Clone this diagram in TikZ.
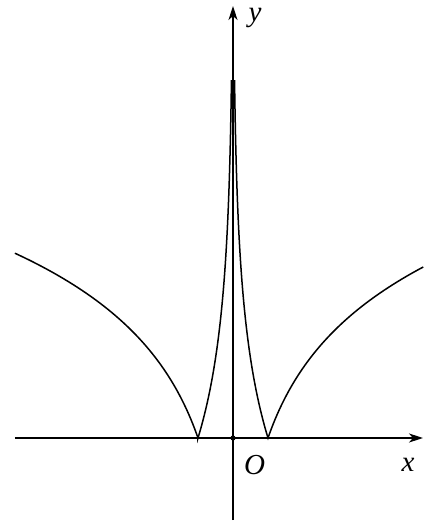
\documentclass[tikz,border=0pt]{standalone}
\usepackage{fontspec}
\setmainfont{Liberation Serif}
\usetikzlibrary{arrows.meta}
\begin{document}
\begin{tikzpicture}[x=1pt,y=1pt,
  axis/.style={line width=1.4pt,-{Stealth[length=14pt,width=9pt,inset=4pt]}},
  curve/.style={line width=1.5pt},
  lab/.style={font=\fontsize{29}{30}\selectfont\itshape,inner sep=0pt}]
\useasboundingbox (-233,-84) rectangle (190,438);
\coordinate (xs) at (-218,0);
\coordinate (xe) at (190,0);
\coordinate (ys) at (0,-82);
\coordinate (ye) at (0,432);
\draw[axis] (xs) -- (xe);
\draw[axis] (ys) -- (ye);
\fill (0,0) circle (2.6);
\node[lab] (ylab) at (22,420) {y};
\node[lab] (olab) at (21.5,-27.5) {O};
\node[lab] (xlab) at (175,-27) {x};
\draw[curve]
  plot[variable=\t,domain=184.8:0,samples=60] ({-35*exp(\t/101)},\t)
  -- plot[variable=\t,domain=0:357,samples=120] ({-35*exp(-\t/115)},\t)
  -- plot[variable=\t,domain=357:0,samples=120] ({35*exp(-\t/115)},\t)
  -- plot[variable=\t,domain=0:171,samples=60] ({35*exp(\t/101)},\t);
\end{tikzpicture}
\end{document}
